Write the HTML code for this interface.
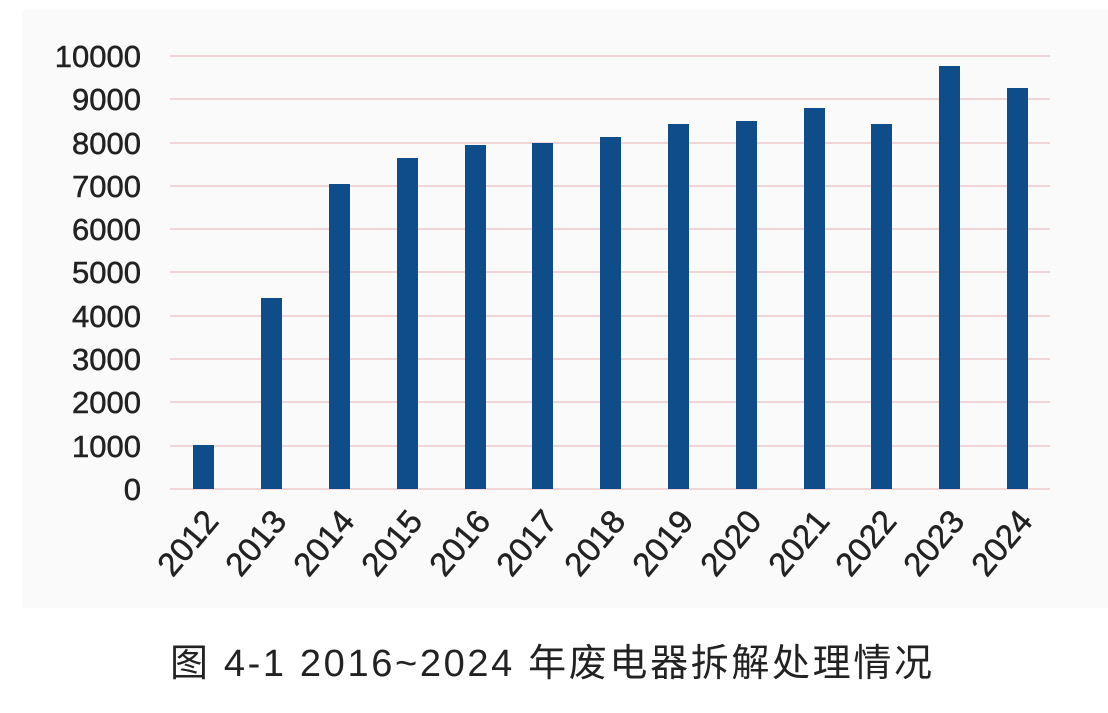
<!DOCTYPE html>
<html><head><meta charset="utf-8"><style>
body{margin:0;background:#fff;width:1108px;height:708px;overflow:hidden}
</style></head><body>
<svg width="1108" height="708" xmlns="http://www.w3.org/2000/svg" font-family="Liberation Sans, Noto Sans CJK SC, sans-serif">
<rect x="22" y="10" width="1086" height="598" fill="#fafafa"/>
<g stroke="#ecc9c9" stroke-width="1.5">
<line x1="170" x2="1050" y1="56" y2="56"/><line x1="170" x2="1050" y1="99" y2="99"/>
<line x1="170" x2="1050" y1="143" y2="143"/><line x1="170" x2="1050" y1="186" y2="186"/>
<line x1="170" x2="1050" y1="229" y2="229"/><line x1="170" x2="1050" y1="272" y2="272"/>
<line x1="170" x2="1050" y1="316" y2="316"/><line x1="170" x2="1050" y1="359" y2="359"/>
<line x1="170" x2="1050" y1="402" y2="402"/><line x1="170" x2="1050" y1="446" y2="446"/>
<line x1="170" x2="1050" y1="489" y2="489"/>
</g>
<g font-size="31" fill="#222" text-anchor="end" stroke="#222" stroke-width="0.5">
<text x="141" y="67">10000</text><text x="141" y="110">9000</text><text x="141" y="154">8000</text>
<text x="141" y="197">7000</text><text x="141" y="240">6000</text><text x="141" y="283">5000</text>
<text x="141" y="327">4000</text><text x="141" y="370">3000</text><text x="141" y="413">2000</text>
<text x="141" y="457">1000</text><text x="141" y="500">0</text>
</g>
<g fill="#0f4c8a">
<rect x="193" y="445" width="21" height="44"/>
<rect x="261" y="298" width="21" height="191"/>
<rect x="329" y="184" width="21" height="305"/>
<rect x="397" y="158" width="21" height="331"/>
<rect x="465" y="145" width="21" height="344"/>
<rect x="532" y="143" width="21" height="346"/>
<rect x="600" y="137" width="21" height="352"/>
<rect x="668" y="124" width="21" height="365"/>
<rect x="736" y="121" width="21" height="368"/>
<rect x="804" y="108" width="21" height="381"/>
<rect x="871" y="124" width="21" height="365"/>
<rect x="939" y="66" width="21" height="423"/>
<rect x="1007" y="88" width="21" height="401"/>
</g>
<g font-size="33" fill="#222" text-anchor="end" stroke="#222" stroke-width="0.5">
<text transform="translate(220,522) rotate(-50)">2012</text>
<text transform="translate(288,522) rotate(-50)">2013</text>
<text transform="translate(356,522) rotate(-50)">2014</text>
<text transform="translate(424,522) rotate(-50)">2015</text>
<text transform="translate(492,522) rotate(-50)">2016</text>
<text transform="translate(559,522) rotate(-50)">2017</text>
<text transform="translate(627,522) rotate(-50)">2018</text>
<text transform="translate(695,522) rotate(-50)">2019</text>
<text transform="translate(763,522) rotate(-50)">2020</text>
<text transform="translate(831,522) rotate(-50)">2021</text>
<text transform="translate(898,522) rotate(-50)">2022</text>
<text transform="translate(966,522) rotate(-50)">2023</text>
<text transform="translate(1034,522) rotate(-50)">2024</text>
</g>
<text x="170" y="676" font-size="38" fill="#222" textLength="762" lengthAdjust="spacing">图 4-1 2016~2024 年废电器拆解处理情况</text>
</svg>
</body></html>
